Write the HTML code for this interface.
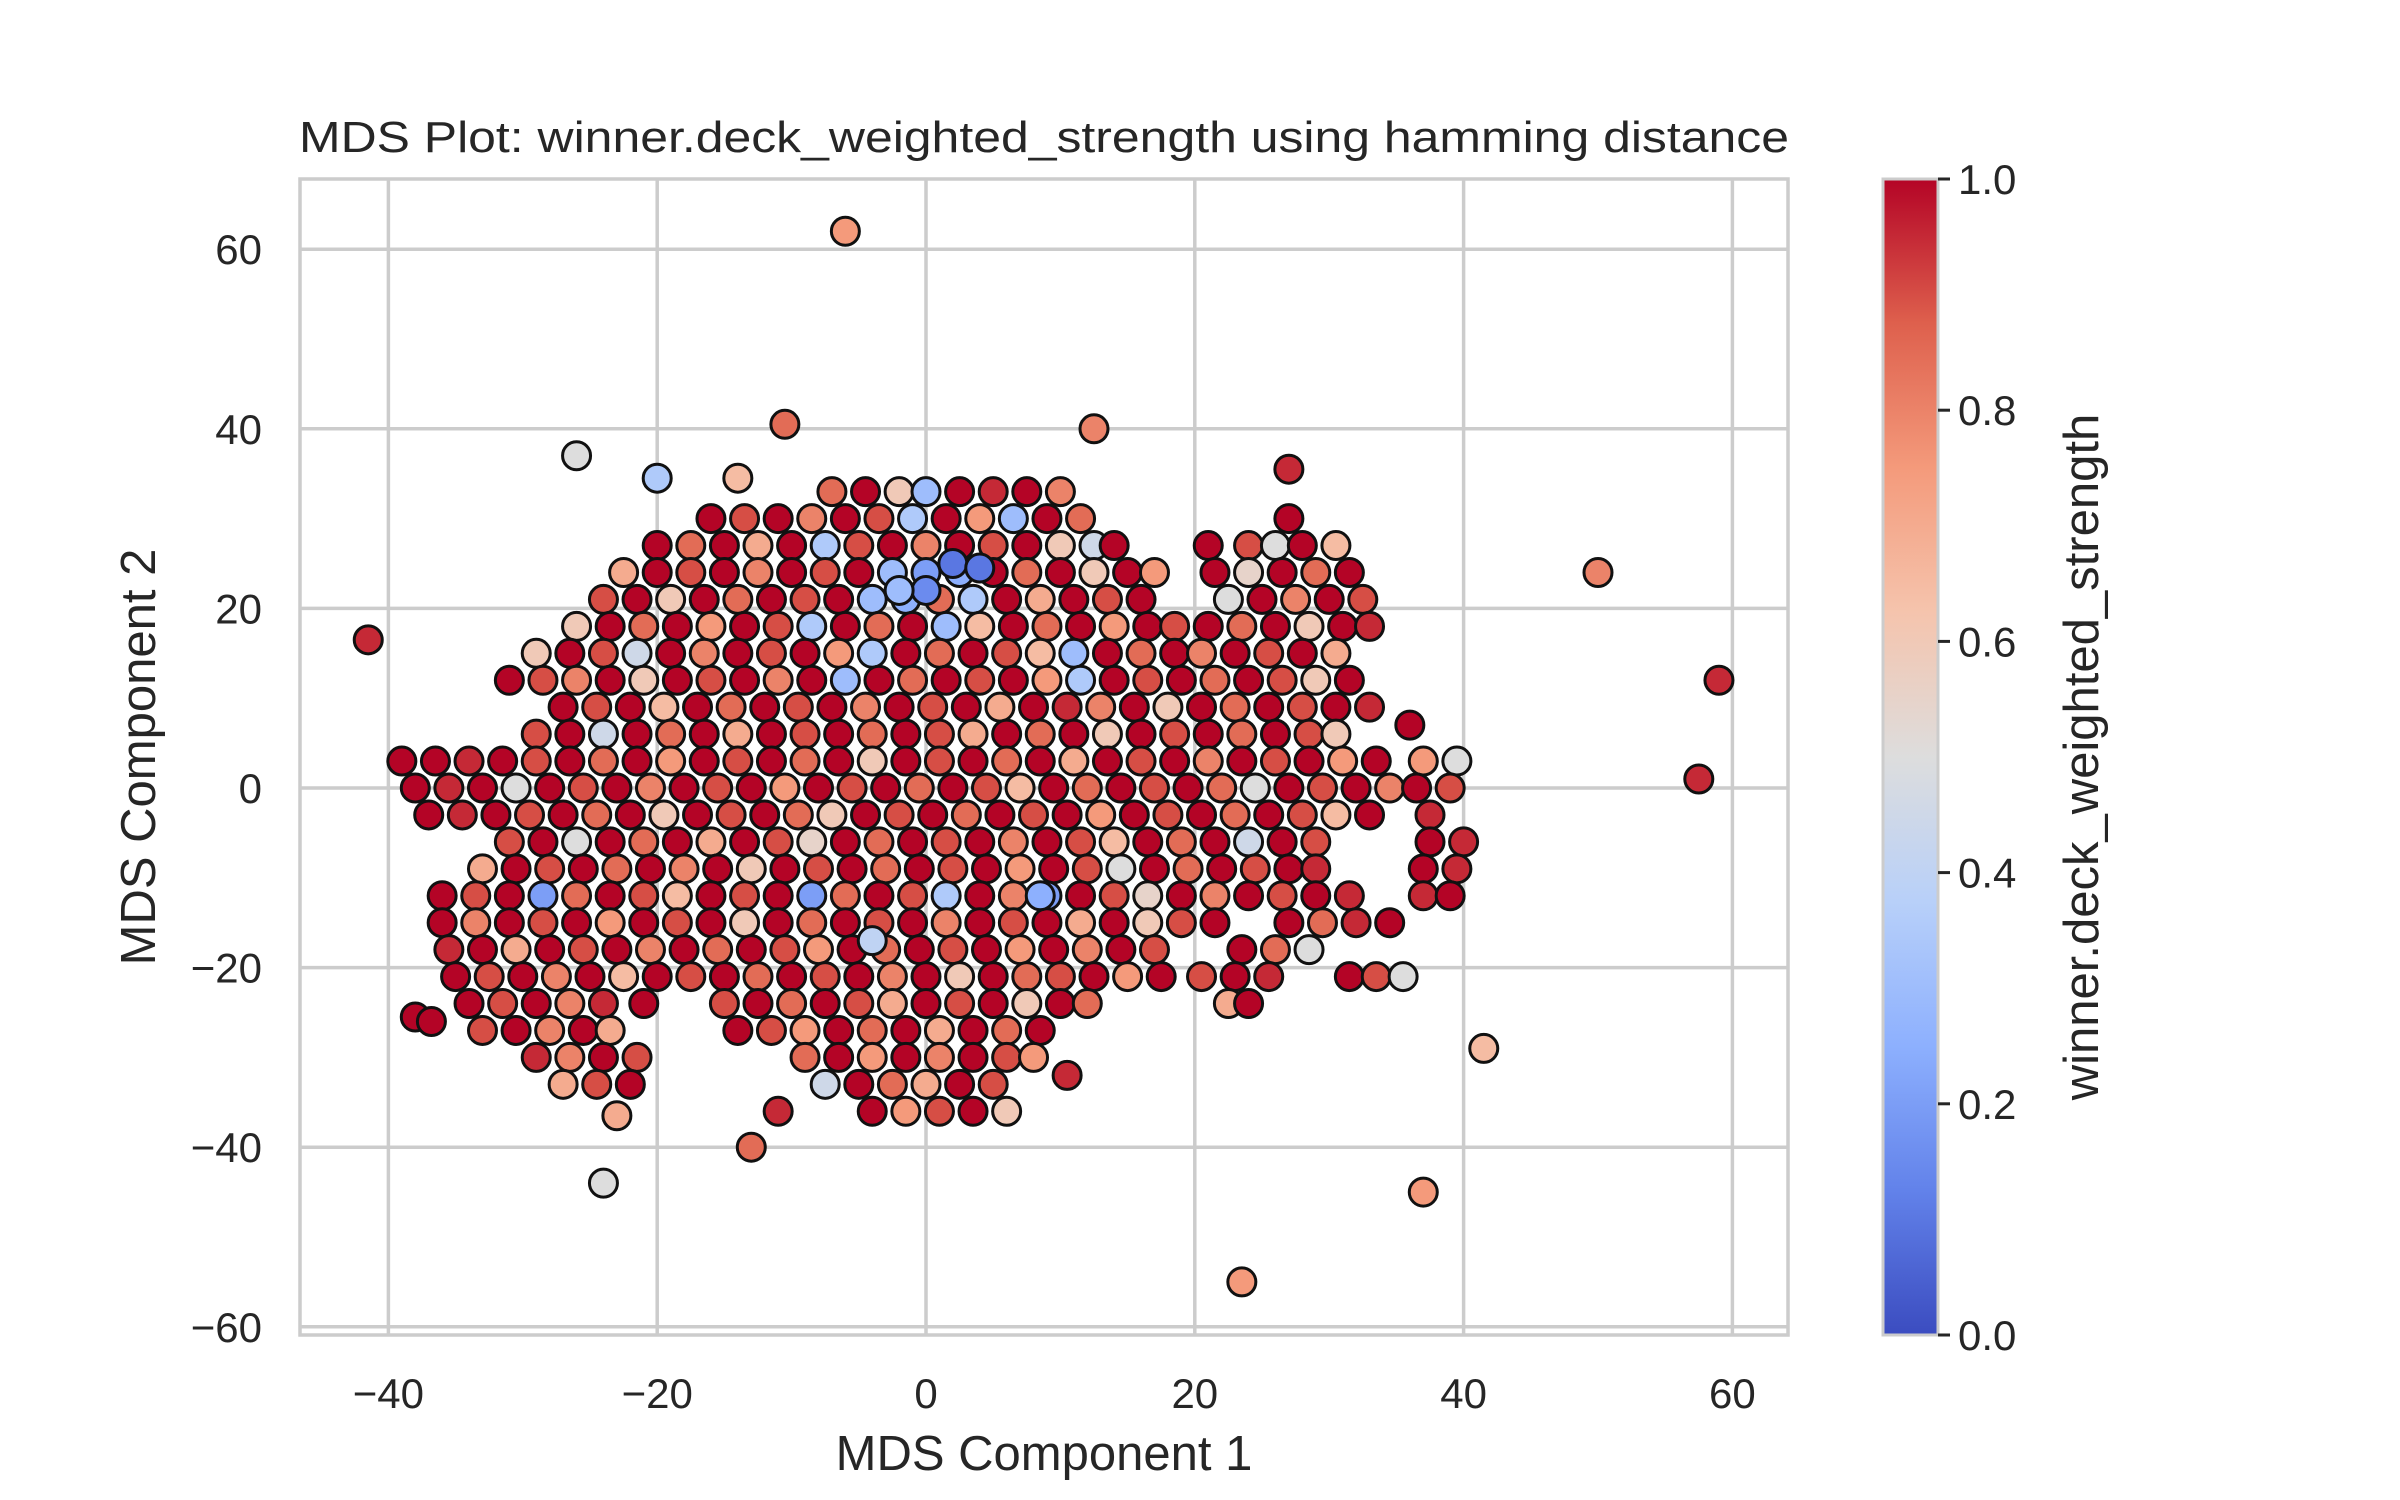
<!DOCTYPE html>
<html><head><meta charset="utf-8"><style>
html,body{margin:0;padding:0;background:#fff;}
svg{display:block;font-family:"Liberation Sans",sans-serif;}
</style></head><body>
<svg id="chart" width="2400" height="1500" viewBox="0 0 2400 1500" xmlns="http://www.w3.org/2000/svg">
<defs>
<linearGradient id="cw" x1="0" y1="1" x2="0" y2="0">
<stop offset="0" stop-color="rgb(59,76,192)"/>
<stop offset="0.125" stop-color="rgb(98,130,234)"/>
<stop offset="0.25" stop-color="rgb(141,176,254)"/>
<stop offset="0.375" stop-color="rgb(184,208,249)"/>
<stop offset="0.5" stop-color="rgb(221,221,221)"/>
<stop offset="0.625" stop-color="rgb(245,196,173)"/>
<stop offset="0.75" stop-color="rgb(244,154,123)"/>
<stop offset="0.875" stop-color="rgb(222,96,77)"/>
<stop offset="1" stop-color="rgb(180,4,38)"/>
</linearGradient>
<clipPath id="plotclip"><rect x="300" y="179" width="1488" height="1156"/></clipPath>
</defs>
<g id="grid"></g>
<g id="points" clip-path="url(#plotclip)"></g>
<rect x="300" y="179" width="1488" height="1156" fill="none" stroke="#cccccc" stroke-width="3.5"/>
<g id="xticks" font-size="42" fill="#262626" text-anchor="middle"></g>
<g id="yticks" font-size="42" fill="#262626" text-anchor="end"></g>
<text x="1044" y="152" font-size="44" fill="#262626" text-anchor="middle" textLength="1490" lengthAdjust="spacingAndGlyphs">MDS Plot: winner.deck_weighted_strength using hamming distance</text>
<text x="1044" y="1470" font-size="49" fill="#262626" text-anchor="middle">MDS Component 1</text>
<text x="0" y="0" font-size="49" fill="#262626" text-anchor="middle" transform="translate(155,757) rotate(-90)">MDS Component 2</text>
<rect x="1883" y="179" width="55" height="1156" fill="url(#cw)" stroke="#cccccc" stroke-width="3"/>
<g id="cbticks" font-size="42" fill="#262626"></g>
<text x="0" y="0" font-size="49" fill="#262626" text-anchor="middle" transform="translate(2098,757) rotate(-90)">winner.deck_weighted_strength</text>
</svg>
<script>
const xTicks = [-40,-20,0,20,40,60];
const yTicks = [-60,-40,-20,0,20,40,60];
const cbTicks = [0.0,0.2,0.4,0.6,0.8,1.0];
const pointData = [
[-7,33,.85],[-4.5,33,1],[-2,33,.6],[0,33,.3],[2.5,33,1],[5,33,.95],[7.5,33,1],[10,33,.8],
[-16,30,1],[-13.5,30,.9],[-11,30,1],[-8.5,30,.8],[-6,30,1],[-3.5,30,.9],[-1,30,.35],[1.5,30,1],[4,30,.75],[6.5,30,.3],[9,30,1],[11.5,30,.85],[27,30,1],
[-20,27,1],[-17.5,27,.85],[-15,27,1],[-12.5,27,.7],[-10,27,1],[-7.5,27,.35],[-5,27,.9],[-2.5,27,1],[0,27,.8],[2.5,27,1],[5,27,.9],[7.5,27,1],[10,27,.6],[12.5,27,.45],[14,27,1],[21,27,1],[24,27,.9],[26,27,.5],[28,27,1],[30.5,27,.65],
[-22.5,24,.7],[-20,24,1],[-17.5,24,.9],[-15,24,1],[-12.5,24,.8],[-10,24,1],[-7.5,24,.9],[-5,24,1],[-2.5,24,.3],[0,24,.2],[2.5,24,.25],[5,24,1],[7.5,24,.85],[10,24,1],[12.5,24,.6],[15,24,1],[17,24,.75],[21.5,24,1],[24,24,.55],[26.5,24,1],[29,24,.85],[31.5,24,1],
[-24,21,.9],[-21.5,21,1],[-19,21,.6],[-16.5,21,1],[-14,21,.85],[-11.5,21,1],[-9,21,.9],[-6.5,21,1],[-4,21,.3],[-1.5,21,.25],[1,21,.85],[3.5,21,.35],[6,21,1],[8.5,21,.7],[11,21,1],[13.5,21,.9],[16,21,1],[22.5,21,.5],[25,21,1],[27.5,21,.8],[30,21,1],[32.5,21,.9],
[-26,18,.6],[-23.5,18,1],[-21,18,.85],[-18.5,18,1],[-16,18,.75],[-13.5,18,1],[-11,18,.9],[-8.5,18,.35],[-6,18,1],[-3.5,18,.85],[-1,18,1],[1.5,18,.3],[4,18,.65],[6.5,18,1],[9,18,.85],[11.5,18,1],[14,18,.75],[16.5,18,1],[18.5,18,.9],[21,18,1],[23.5,18,.85],[26,18,1],[28.5,18,.6],[31,18,1],[33,18,.95],
[-29,15,.6],[-26.5,15,1],[-24,15,.9],[-21.5,15,.45],[-19,15,1],[-16.5,15,.8],[-14,15,1],[-11.5,15,.9],[-9,15,1],[-6.5,15,.75],[-4,15,.35],[-1.5,15,1],[1,15,.85],[3.5,15,1],[6,15,.9],[8.5,15,.65],[11,15,.3],[13.5,15,1],[16,15,.85],[18.5,15,1],[20.5,15,.8],[23,15,1],[25.5,15,.9],[28,15,1],[30.5,15,.7],
[-31,12,1],[-28.5,12,.9],[-26,12,.8],[-23.5,12,1],[-21,12,.6],[-18.5,12,1],[-16,12,.9],[-13.5,12,1],[-11,12,.8],[-8.5,12,1],[-6,12,.3],[-3.5,12,1],[-1,12,.85],[1.5,12,1],[4,12,.9],[6.5,12,1],[9,12,.75],[11.5,12,.35],[14,12,1],[16.5,12,.9],[19,12,1],[21.5,12,.85],[24,12,1],[26.5,12,.9],[29,12,.6],[31.5,12,1],
[-27,9,1],[-24.5,9,.9],[-22,9,1],[-19.5,9,.65],[-17,9,1],[-14.5,9,.85],[-12,9,1],[-9.5,9,.9],[-7,9,1],[-4.5,9,.8],[-2,9,1],[0.5,9,.9],[3,9,1],[5.5,9,.7],[8,9,1],[10.5,9,.95],[13,9,.8],[15.5,9,1],[18,9,.6],[20.5,9,1],[23,9,.85],[25.5,9,1],[28,9,.9],[30.5,9,1],[33,9,.95],
[-29,6,.9],[-26.5,6,1],[-24,6,.45],[-21.5,6,1],[-19,6,.85],[-16.5,6,1],[-14,6,.7],[-11.5,6,1],[-9,6,.9],[-6.5,6,1],[-4,6,.85],[-1.5,6,1],[1,6,.9],[3.5,6,.7],[6,6,1],[8.5,6,.85],[11,6,1],[13.5,6,.6],[16,6,1],[18.5,6,.9],[21,6,1],[23.5,6,.85],[26,6,1],[28.5,6,.9],[30.5,6,.6],[36,7,1],
[-39,3,1],[-36.5,3,1],[-34,3,.95],[-31.5,3,1],[-29,3,.9],[-26.5,3,1],[-24,3,.85],[-21.5,3,1],[-19,3,.75],[-16.5,3,1],[-14,3,.9],[-11.5,3,1],[-9,3,.85],[-6.5,3,1],[-4,3,.6],[-1.5,3,1],[1,3,.9],[3.5,3,1],[6,3,.85],[8.5,3,1],[11,3,.7],[13.5,3,1],[16,3,.9],[18.5,3,1],[21,3,.8],[23.5,3,1],[26,3,.9],[28.5,3,1],[31,3,.75],[33.5,3,1],[37,3,.75],[39.5,3,.5],
[-38,0,1],[-35.5,0,.95],[-33,0,1],[-30.5,0,.5],[-28,0,1],[-25.5,0,.9],[-23,0,1],[-20.5,0,.8],[-18,0,1],[-15.5,0,.9],[-13,0,1],[-10.5,0,.75],[-8,0,1],[-5.5,0,.9],[-3,0,1],[-0.5,0,.85],[2,0,1],[4.5,0,.9],[7,0,.65],[9.5,0,1],[12,0,.85],[14.5,0,1],[17,0,.9],[19.5,0,1],[22,0,.85],[24.5,0,.5],[27,0,1],[29.5,0,.9],[32,0,1],[34.5,0,.8],[36.5,0,1],[39,0,.9],
[-37,-3,1],[-34.5,-3,.95],[-32,-3,1],[-29.5,-3,.9],[-27,-3,1],[-24.5,-3,.85],[-22,-3,1],[-19.5,-3,.6],[-17,-3,1],[-14.5,-3,.9],[-12,-3,1],[-9.5,-3,.85],[-7,-3,.6],[-4.5,-3,1],[-2,-3,.9],[0.5,-3,1],[3,-3,.85],[5.5,-3,1],[8,-3,.9],[10.5,-3,1],[13,-3,.75],[15.5,-3,1],[18,-3,.9],[20.5,-3,1],[23,-3,.85],[25.5,-3,1],[28,-3,.9],[30.5,-3,.65],[33,-3,1],[37.5,-3,.95],
[-31,-6,.9],[-28.5,-6,1],[-26,-6,.5],[-23.5,-6,1],[-21,-6,.85],[-18.5,-6,1],[-16,-6,.7],[-13.5,-6,1],[-11,-6,.9],[-8.5,-6,.55],[-6,-6,1],[-3.5,-6,.85],[-1,-6,1],[1.5,-6,.9],[4,-6,1],[6.5,-6,.8],[9,-6,1],[11.5,-6,.9],[14,-6,.65],[16.5,-6,1],[19,-6,.85],[21.5,-6,1],[24,-6,.45],[26.5,-6,1],[29,-6,.9],[37.5,-6,1],[40,-6,.95],
[-33,-9,.7],[-30.5,-9,1],[-28,-9,.9],[-25.5,-9,1],[-23,-9,.85],[-20.5,-9,1],[-18,-9,.8],[-15.5,-9,1],[-13,-9,.6],[-10.5,-9,1],[-8,-9,.9],[-5.5,-9,1],[-3,-9,.85],[-0.5,-9,1],[2,-9,.9],[4.5,-9,1],[7,-9,.75],[9.5,-9,1],[12,-9,.9],[14.5,-9,.5],[17,-9,1],[19.5,-9,.85],[22,-9,1],[24.5,-9,.9],[27,-9,1],[29,-9,.95],[37,-9,1],[39.5,-9,.95],
[-36,-12,1],[-33.5,-12,.9],[-31,-12,1],[-28.5,-12,.2],[-26,-12,.85],[-23.5,-12,1],[-21,-12,.9],[-18.5,-12,.65],[-16,-12,1],[-13.5,-12,.9],[-11,-12,1],[-8.5,-12,.2],[-6,-12,.85],[-3.5,-12,1],[-1,-12,.9],[1.5,-12,.35],[4,-12,1],[6.5,-12,.8],[9,-12,.2],[11.5,-12,1],[14,-12,.9],[16.5,-12,.55],[19,-12,1],[21.5,-12,.8],[24,-12,1],[26.5,-12,.9],[29,-12,1],[31.5,-12,.95],[37,-12,.95],[39,-12,1],
[-36,-15,1],[-33.5,-15,.8],[-31,-15,1],[-28.5,-15,.9],[-26,-15,1],[-23.5,-15,.75],[-21,-15,1],[-18.5,-15,.9],[-16,-15,1],[-13.5,-15,.6],[-11,-15,1],[-8.5,-15,.85],[-6,-15,1],[-3.5,-15,.9],[-1,-15,1],[1.5,-15,.8],[4,-15,1],[6.5,-15,.9],[9,-15,1],[11.5,-15,.7],[14,-15,1],[16.5,-15,.6],[19,-15,.9],[21.5,-15,1],[27,-15,1],[29.5,-15,.85],[32,-15,.95],[34.5,-15,1],
[-35.5,-18,.95],[-33,-18,1],[-30.5,-18,.7],[-28,-18,1],[-25.5,-18,.9],[-23,-18,1],[-20.5,-18,.8],[-18,-18,1],[-15.5,-18,.85],[-13,-18,1],[-10.5,-18,.9],[-8,-18,.75],[-5.5,-18,1],[-3,-18,.85],[-0.5,-18,1],[2,-18,.9],[4.5,-18,1],[7,-18,.75],[9.5,-18,1],[12,-18,.8],[14.5,-18,1],[17,-18,.9],[23.5,-18,1],[26,-18,.85],[28.5,-18,.5],
[-35,-21,1],[-32.5,-21,.9],[-30,-21,1],[-27.5,-21,.8],[-25,-21,1],[-22.5,-21,.65],[-20,-21,1],[-17.5,-21,.9],[-15,-21,1],[-12.5,-21,.85],[-10,-21,1],[-7.5,-21,.9],[-5,-21,1],[-2.5,-21,.8],[0,-21,1],[2.5,-21,.6],[5,-21,1],[7.5,-21,.85],[10,-21,.9],[12.5,-21,1],[15,-21,.75],[17.5,-21,1],[20.5,-21,.9],[23,-21,1],[25.5,-21,.95],[31.5,-21,1],[33.5,-21,.9],[35.5,-21,.5],
[-34,-24,1],[-31.5,-24,.9],[-29,-24,1],[-26.5,-24,.8],[-24,-24,.95],[-21,-24,1],[-15,-24,.9],[-12.5,-24,1],[-10,-24,.85],[-7.5,-24,1],[-5,-24,.9],[-2.5,-24,.7],[0,-24,1],[2.5,-24,.9],[5,-24,1],[7.5,-24,.6],[10,-24,1],[12,-24,.85],[22.5,-24,.7],[24,-24,1],
[-33,-27,.9],[-30.5,-27,1],[-28,-27,.8],[-25.5,-27,1],[-23.5,-27,.7],[-14,-27,1],[-11.5,-27,.9],[-9,-27,.75],[-6.5,-27,1],[-4,-27,.85],[-1.5,-27,1],[1,-27,.7],[3.5,-27,1],[6,-27,.85],[8.5,-27,1],
[-29,-30,.95],[-26.5,-30,.8],[-24,-30,1],[-21.5,-30,.9],[-9,-30,.85],[-6.5,-30,1],[-4,-30,.75],[-1.5,-30,1],[1,-30,.8],[3.5,-30,1],[6,-30,.9],[8,-30,.75],
[-27,-33,.7],[-24.5,-33,.9],[-22,-33,1],[-7.5,-33,.45],[-5,-33,1],[-2.5,-33,.85],[0,-33,.7],[2.5,-33,1],[5,-33,.9],
[-23,-36.5,.7],[-4,-36,1],[-1.5,-36,.75],[1,-36,.9],[3.5,-36,1],[6,-36,.6],
[-38,-25.5,1],[-36.8,-26,1],[-41.5,16.5,.95],[59,12,.95],[57.5,1,.95],[50,24,.8],[-6,62,.75],[-10.5,40.5,.85],[12.5,40,.8],[-26,37,.5],[-24,-44,.5],[37,-45,.75],[23.5,-55,.75],[41.5,-29,.65],[-13,-40,.85],[-11,-36,.95],[10.5,-32,.95],[27,35.5,.95],[-20,34.5,.35],[-14,34.5,.65],[0,22,.15],[2,25,.1],[4,24.5,.1],[-2,22,.3],[8.5,-12,.25],[-4,-17,.4]
];
const NS = 'http://www.w3.org/2000/svg';
const X0 = 926, XS = 13.44, Y0 = 788, YS = 8.98;
function xScale(v){ return X0 + v*XS; }
function yScale(v){ return Y0 - v*YS; }
function cbScale(v){ return 1335 - v*1156; }
const cmap = [[59,76,192],[98,130,234],[141,176,254],[184,208,249],[221,221,221],[245,196,173],[244,154,123],[222,96,77],[180,4,38]];
function colorOf(v){
  const t = Math.max(0,Math.min(1,v))*8; const i = Math.min(7,Math.floor(t)); const f = t-i;
  const a = cmap[i], b = cmap[i+1];
  return 'rgb('+a.map((c,k)=>Math.round(c+(b[k]-c)*f)).join(',')+')';
}
const grid = document.getElementById('grid');
xTicks.forEach(t=>{
  const l = document.createElementNS(NS,'line');
  
  
  l.setAttribute('x1',xScale(t)); l.setAttribute('x2',xScale(t)); l.setAttribute('y1',179); l.setAttribute('y2',1335);
  l.setAttribute('stroke','#cccccc'); l.setAttribute('stroke-width','3.5');
  grid.appendChild(l);
  const tx = document.createElementNS(NS,'text');
  
  
  tx.setAttribute('x',xScale(t)); tx.setAttribute('y',1408);
  tx.textContent = t<0 ? '\u2212'+(-t) : String(t);
  document.getElementById('xticks').appendChild(tx);
});
yTicks.forEach(t=>{
  const l = document.createElementNS(NS,'line');
  
  
  l.setAttribute('y1',yScale(t)); l.setAttribute('y2',yScale(t)); l.setAttribute('x1',300); l.setAttribute('x2',1788);
  l.setAttribute('stroke','#cccccc'); l.setAttribute('stroke-width','3.5');
  grid.appendChild(l);
  const tx = document.createElementNS(NS,'text');
  
  
  tx.setAttribute('x',262); tx.setAttribute('y',yScale(t)+15);
  tx.textContent = t<0 ? '\u2212'+(-t) : String(t);
  document.getElementById('yticks').appendChild(tx);
});
const pg = document.getElementById('points');
pointData.forEach(p=>{
  const c = document.createElementNS(NS,'circle');
  
  
  c.setAttribute('cx',xScale(p[0])); c.setAttribute('cy',yScale(p[1])); c.setAttribute('r',14);
  c.setAttribute('fill',colorOf(p[2])); c.setAttribute('stroke','#111'); c.setAttribute('stroke-width','3');
  pg.appendChild(c);
});
const cb = document.getElementById('cbticks');
cbTicks.forEach(t=>{
  const l = document.createElementNS(NS,'line');
  
  
  l.setAttribute('x1',1938); l.setAttribute('x2',1950); l.setAttribute('y1',cbScale(t)); l.setAttribute('y2',cbScale(t));
  l.setAttribute('stroke','#262626'); l.setAttribute('stroke-width','3');
  cb.appendChild(l);
  const tx = document.createElementNS(NS,'text');
  
  
  tx.setAttribute('x',1958); tx.setAttribute('y',cbScale(t)+15);
  tx.textContent = t.toFixed(1);
  cb.appendChild(tx);
});
</script>
</body></html>
